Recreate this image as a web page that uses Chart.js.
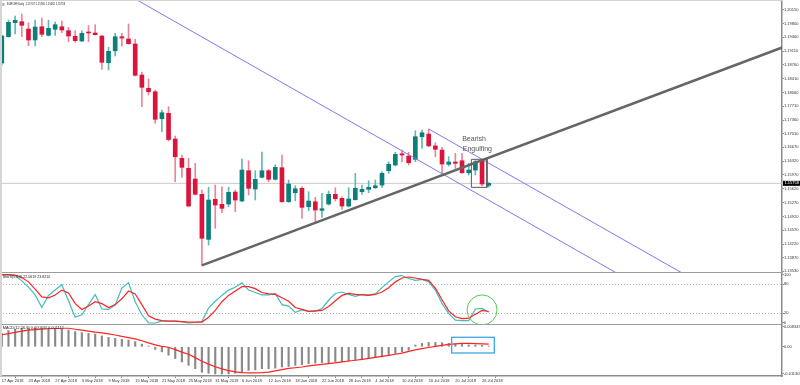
<!DOCTYPE html>
<html>
<head>
<meta charset="utf-8">
<title>EURCHF Daily</title>
<script src="https://cdn.jsdelivr.net/npm/chart.js@4.4.1/dist/chart.umd.min.js"></script>
<style>
html,body{margin:0;padding:0;background:#fff;}
body{width:800px;height:385px;position:relative;overflow:hidden;}
canvas{position:absolute;left:0;display:block;}
.sep{position:absolute;left:0;width:783px;height:1.5px;background:#9c9c9c;}
.edge{position:absolute;left:0;top:0;width:1.5px;height:376px;background:#d6d6d6;}
.topline{position:absolute;left:0;top:0;width:783px;height:1px;background:#d4d4d4;}
</style>
</head>
<body>
<canvas id="cMain" width="800" height="272" style="top:0"></canvas>
<canvas id="cStoch" width="800" height="52" style="top:272px"></canvas>
<canvas id="cMacd" width="800" height="61" style="top:324px"></canvas>
<div class="sep" style="top:271.5px"></div>
<div class="sep" style="top:323.5px"></div>
<div class="edge"></div>
<div class="topline"></div>
<script>
// ---------------- DATA ----------------
const dateLabels = ['17 Apr 2018','23 Apr 2018','27 Apr 2018','3 May 2018','9 May 2018','15 May 2018','21 May 2018','25 May 2018','31 May 2018','6 Jun 2018','12 Jun 2018','18 Jun 2018','22 Jun 2018','28 Jun 2018','4 Jul 2018','10 Jul 2018','16 Jul 2018','20 Jul 2018','26 Jul 2018'];
const dateTickIdx = [0,4,8,12,16,20,24,28,32,36,40,44,48,52,56,60,64,68,72];

const open  = [1.18807,1.19473,1.19828,1.19853,1.19668,1.19390,1.19726,1.19508,1.19661,1.19726,
               1.19625,1.19483,1.19364,1.19592,1.19567,1.19491,1.18814,1.19118,1.19473,1.19415,
               1.19288,1.18503,1.18166,1.18079,1.17395,1.17532,1.16881,1.16392,1.16138,1.15867,
               1.15480,1.14339,1.15353,1.15226,1.15234,1.15538,1.15310,1.16078,1.15614,1.15911,
               1.16078,1.15860,1.16154,1.15292,1.15520,1.15632,1.15165,1.15292,1.15074,1.15234,
               1.15480,1.15378,1.15183,1.15343,1.15546,1.15606,1.15647,1.15715,1.16078,1.16222,
               1.16508,1.16450,1.16366,1.16939,1.17007,1.16707,1.16602,1.16240,1.16298,1.16331,
               1.16027,1.16095,1.16331,1.15707];
const high  = [1.19516,1.19896,1.19998,1.20048,1.19828,1.19896,1.19947,1.19889,1.19846,1.19871,
               1.19711,1.19625,1.19625,1.19752,1.19777,1.19503,1.19204,1.19559,1.19559,1.19795,
               1.19407,1.18579,1.18401,1.18122,1.17616,1.17700,1.16957,1.16475,1.16392,1.16265,
               1.15589,1.15657,1.15715,1.15672,1.15657,1.15589,1.16374,1.16331,1.16078,1.16551,
               1.16113,1.16230,1.16475,1.15842,1.15697,1.15672,1.15546,1.15404,1.15505,1.15563,
               1.15647,1.15419,1.15647,1.16012,1.15715,1.15824,1.15842,1.16052,1.16306,1.16544,
               1.16602,1.16544,1.17091,1.17109,1.17134,1.16787,1.16670,1.16432,1.16518,1.16518,
               1.16265,1.16366,1.16366,1.15780];
const low   = [1.18756,1.19465,1.19541,1.19473,1.19245,1.19237,1.19473,1.19491,1.19508,1.19574,
               1.19346,1.19331,1.19346,1.19346,1.19516,1.18647,1.18629,1.18984,1.19237,1.19281,
               1.18477,1.17700,1.17996,1.17279,1.17066,1.16830,1.15799,1.15911,1.15165,1.15462,
               1.13688,1.14195,1.14618,1.15013,1.15165,1.15039,1.15292,1.15462,1.15335,1.15893,
               1.15799,1.15842,1.15284,1.15277,1.15317,1.14871,1.15064,1.14785,1.14897,1.15208,
               1.15310,1.15100,1.15158,1.15335,1.15480,1.15520,1.15627,1.15657,1.16012,1.16197,
               1.16306,1.16222,1.16306,1.16645,1.16686,1.16432,1.16012,1.16197,1.16138,1.16012,
               1.15969,1.15969,1.15690,1.15662];
const close = [1.19491,1.19838,1.19889,1.19762,1.19390,1.19719,1.19534,1.19686,1.19777,1.19643,
               1.19491,1.19372,1.19559,1.19567,1.19524,1.18824,1.19103,1.19473,1.19440,1.19296,
               1.18495,1.18191,1.18079,1.17380,1.17547,1.16868,1.16432,1.16164,1.15183,1.15480,
               1.14365,1.15335,1.15208,1.15125,1.15530,1.15335,1.16095,1.15632,1.15860,1.16078,
               1.15860,1.16164,1.15292,1.15740,1.15621,1.15150,1.15310,1.15082,1.15115,1.15480,
               1.15368,1.15183,1.15361,1.15632,1.15606,1.15657,1.15697,1.16012,1.16240,1.16493,
               1.16475,1.16280,1.16939,1.17040,1.16707,1.16620,1.16247,1.16298,1.16265,1.16027,
               1.16095,1.16306,1.15740,1.15758];

const stochK = [100,99,98,87,74,58,32,57,68,79, 46,12,17,38,59,29,28,37,72,83,
                44,17,0,0,4,4,4,3,0,1, 3,31,45,57,68,74,83,68,63,58,
                58,61,38,35,22,27,24,24,30,47, 61,64,59,55,59,58,60,73,85,96,
                98,92,88,90,85,68,40,20,6,5, 5,29,30,22.06];
const stochD = [100,100,99,94,85,70,54,52,58,68, 62,40,28,35,44,40,32,38,50,66,
                60,38,15,8,5,4,4,3,2,2, 2,12,26,44,57,66,75,75,71,63,
                60,59,52,45,32,28,24,25,26,34, 46,57,61,59,58,57,59,64,73,85,
                93,95,93,90,88,72,48,25,13,9, 10,18,26,23.82];

const macdMain = [0.0056,0.0067,0.0073,0.0077,0.0077,0.0077,0.0077,0.0075,0.0073,0.0073,
                  0.0070,0.0063,0.0059,0.0056,0.0053,0.0045,0.0039,0.0035,0.0031,0.0028,
                  0.0021,0.0011,0.0003,-0.0011,-0.0021,-0.0035,-0.0049,-0.0063,-0.0077,-0.0091,
                  -0.0106,-0.0110,-0.0113,-0.0113,-0.0113,-0.0110,-0.0106,-0.0098,-0.0096,-0.0091,
                  -0.0091,-0.0089,-0.0084,-0.0082,-0.0077,-0.0075,-0.0070,-0.0068,-0.0066,-0.0066,
                  -0.0063,-0.0063,-0.0060,-0.0056,-0.0053,-0.0049,-0.0045,-0.0042,-0.0035,-0.0028,
                  -0.0021,-0.0014,0.0007,0.0014,0.0018,0.0018,0.0017,0.0014,0.0011,0.0010,
                  0.0008,0.0007,0.0006,0.0003];
const macdSignal = [0.0050,0.0055,0.0060,0.0065,0.0069,0.0071,0.0073,0.0075,0.0076,0.0077,
                    0.0077,0.0073,0.0069,0.0065,0.0061,0.0058,0.0054,0.0049,0.0043,0.0038,
                    0.0033,0.0025,0.0016,0.0008,0.0002,-0.0002,-0.0012,-0.0022,-0.0031,-0.0045,
                    -0.0060,-0.0072,-0.0083,-0.0092,-0.0099,-0.0104,-0.0107,-0.0108,-0.0108,-0.0107,
                    -0.0105,-0.0100,-0.0095,-0.0090,-0.0087,-0.0084,-0.0079,-0.0076,-0.0073,-0.0070,
                    -0.0067,-0.0063,-0.0059,-0.0056,-0.0052,-0.0048,-0.0044,-0.0040,-0.0036,-0.0031,
                    -0.0026,-0.0019,-0.0013,-0.0008,-0.0003,0.0002,0.0006,0.0010,0.0012,0.0014,
                    0.0014,0.0013,0.0012,0.0011];

const priceTicks = [1.20150,1.19800,1.19460,1.19110,1.18760,1.18410,1.18060,1.17710,1.17360,1.17010,
                    1.16670,1.16320,1.15970,1.15620,1.15270,1.14920,1.14570,1.14220,1.13870,1.13530];
const stochTicks = [100,80,20,0];
const stochLevels = [80,20];
const macdTicks = [0.008349,0,-0.011308];
const macdTickText = ['0.008349','0.00','-0.011308'];

// drawn objects (index, price)
const trendUp  = [{x:30,y:1.13680},{x:117,y:1.19200}];
const channelA = [{x:10,y:1.21391},{x:117,y:1.11098}];
const channelB = [{x:64,y:1.17135},{x:117,y:1.12046}];
const patternBox = [{x:70.4,y:1.16367},{x:72.74,y:1.16367},{x:72.74,y:1.15657},{x:70.4,y:1.15657},{x:70.4,y:1.16367}];
const notes = [{text:'Bearish',x:70.8,y:1.16868},{text:'Engulfing',x:71.3,y:1.16615}];
const stochCircle = {x:72, y:27, r:15};
const macdBox = {x0:67.45, x1:73.84, y0:0.00395, y1:-0.00258};

const titleText = 'EURCHF,Daily  1.15707 1.15780 1.15662 1.15758';
const stochText = 'Stoch(5,3,3) 22.0619 23.8210';
const macdText  = 'MACD(12,26,9) 0.000334 0.001112';

// ---------------- SETUP ----------------
const FONT = "'Liberation Sans', Arial, sans-serif";
const X_MIN = -0.27, X_MAX = 116.97, AXIS_W = 18;
const BULL = '#0b7f79', BEAR = '#dc143c', BULL_WICK = '#5fb9b4', BEAR_WICK = '#ec8498';
const idx = open.map((_, i) => i);
const isBull = idx.map(i => close[i] >= open[i]);
const lastClose = close[close.length - 1];

function hiddenX(){ return {type:'linear', min:X_MIN, max:X_MAX, offset:false, display:false}; }
function rightY(min, max, vals, fmt){
  return {
    type:'linear', position:'right', min, max,
    afterFit(s){ s.width = AXIS_W; s.paddingTop = 0; s.paddingBottom = 0; },
    afterBuildTicks(s){ s.ticks = vals.map(v => ({value:v})); },
    ticks:{autoSkip:false, padding:0, color:'#333', font:{family:FONT, size:4}, callback:fmt},
    grid:{drawOnChartArea:false, drawTicks:true, tickLength:2, tickColor:'#888', tickWidth:1},
    border:{display:true, color:'#8c8c8c', width:1.5}
  };
}
const common = {responsive:false, animation:false, events:[], layout:{padding:0},
  plugins:{legend:{display:false}, tooltip:{enabled:false}}};
function lineDs(data, color, width, order){
  return {type:'line', data, borderColor:color, borderWidth:width, pointRadius:0, tension:0, fill:false, order};
}

// ---------------- MAIN ----------------
const mainDeco = {
  id:'mainDeco',
  afterDraw(chart){
    const {ctx, scales:{x, y}, chartArea} = chart;
    ctx.save();
    ctx.fillStyle = '#222'; ctx.font = `2.6px ${FONT}`; ctx.textBaseline = 'middle'; ctx.textAlign = 'left';
    ctx.fillText(titleText, 7, 4.5);
    ctx.fillStyle = '#bbb'; ctx.fillRect(2, 3, 2.5, 3);
    ctx.fillStyle = '#555'; ctx.font = `7px ${FONT}`; ctx.textAlign = 'center';
    notes.forEach(n => ctx.fillText(n.text, x.getPixelForValue(n.x), y.getPixelForValue(n.y)));
    const py = y.getPixelForValue(lastClose);
    ctx.fillStyle = '#000'; ctx.fillRect(chartArea.right + 1, py - 2.5, 17, 5);
    ctx.fillStyle = '#fff'; ctx.font = `4px ${FONT}`; ctx.textAlign = 'left';
    ctx.fillText(lastClose.toFixed(5), chartArea.right + 2.5, py);
    ctx.restore();
  }
};
new Chart(document.getElementById('cMain'), {
  type:'bar',
  data:{datasets:[
    lineDs([{x:X_MIN,y:lastClose},{x:X_MAX,y:lastClose}], '#cacaca', 1, 7),
    {type:'bar', data:idx.map(i => ({x:i, y:[low[i], high[i]]})), backgroundColor:isBull.map(b => b ? BULL_WICK : BEAR_WICK), barThickness:1, grouped:false, order:6},
    {type:'bar', data:idx.map(i => ({x:i, y:[open[i], close[i]]})), backgroundColor:isBull.map(b => b ? BULL : BEAR), barThickness:4, minBarLength:1, grouped:false, order:5},
    lineDs(channelA, '#7a7af2', 1, 3),
    lineDs(channelB, '#7a7af2', 1, 3),
    lineDs(trendUp, '#666666', 2.6, 1),
    lineDs(patternBox, '#5a5a5a', 1, 0)
  ]},
  options:{...common, scales:{x:hiddenX(), y:rightY(1.13512, 1.20403, priceTicks, v => v.toFixed(5))}},
  plugins:[mainDeco]
});

// ---------------- STOCH ----------------
const stochDeco = {
  id:'stochDeco',
  beforeDatasetsDraw(chart){
    const {ctx, scales:{y}, chartArea} = chart;
    ctx.save(); ctx.strokeStyle = '#b4b4b4'; ctx.lineWidth = 1; ctx.setLineDash([1, 2]);
    stochLevels.forEach(v => { const p = Math.round(y.getPixelForValue(v)) + 0.5;
      ctx.beginPath(); ctx.moveTo(chartArea.left, p); ctx.lineTo(chartArea.right, p); ctx.stroke(); });
    ctx.restore();
  },
  afterDraw(chart){
    const {ctx, scales:{x, y}} = chart;
    ctx.save();
    ctx.fillStyle = '#222'; ctx.font = `3.6px ${FONT}`; ctx.textBaseline = 'middle';
    ctx.fillText(stochText, 2.7, 5);
    ctx.strokeStyle = '#4ccf4c'; ctx.lineWidth = 1;
    ctx.beginPath(); ctx.arc(x.getPixelForValue(stochCircle.x), y.getPixelForValue(stochCircle.y), stochCircle.r, 0, Math.PI * 2); ctx.stroke();
    ctx.restore();
  }
};
new Chart(document.getElementById('cStoch'), {
  type:'line',
  data:{datasets:[
    lineDs(idx.map(i => ({x:i, y:stochK[i]})), '#3fbdbd', 1.2, 2),
    lineDs(idx.map(i => ({x:i, y:stochD[i]})), '#ff2424', 1.2, 1)
  ]},
  options:{...common, clip:false, scales:{x:hiddenX(), y:rightY(-2.07, 105.37, stochTicks, v => String(v))}},
  plugins:[stochDeco]
});

// ---------------- MACD ----------------
const macdDeco = {
  id:'macdDeco',
  afterDraw(chart){
    const {ctx, scales:{x, y}} = chart;
    ctx.save();
    ctx.fillStyle = '#222'; ctx.font = `3.9px ${FONT}`; ctx.textBaseline = 'middle';
    ctx.fillText(macdText, 2.7, 3.5);
    ctx.strokeStyle = '#3ea6e6'; ctx.lineWidth = 1.3;
    const x0 = x.getPixelForValue(macdBox.x0), x1 = x.getPixelForValue(macdBox.x1);
    const y0 = y.getPixelForValue(macdBox.y0), y1 = y.getPixelForValue(macdBox.y1);
    ctx.strokeRect(x0, y0, x1 - x0, y1 - y0);
    ctx.restore();
  }
};
new Chart(document.getElementById('cMacd'), {
  type:'bar',
  data:{datasets:[
    {type:'bar', data:idx.map(i => ({x:i, y:macdMain[i]})), backgroundColor:'#8a8a8a', barThickness:1.5, grouped:false, order:2},
    lineDs(idx.map(i => ({x:i, y:macdSignal[i]})), '#ff2424', 1.2, 1)
  ]},
  options:{...common, scales:{
    x:{type:'linear', min:X_MIN, max:X_MAX, offset:false, position:'bottom',
       afterFit(s){ s.height = 9; s.paddingLeft = 0; s.paddingRight = 0; },
       afterBuildTicks(s){ s.ticks = dateTickIdx.map(v => ({value:v})); },
       ticks:{autoSkip:false, maxRotation:0, minRotation:0, align:'start', padding:0, color:'#333',
              font:{family:FONT, size:4}, callback:(v, k) => dateLabels[k]},
       grid:{drawOnChartArea:false, drawTicks:true, tickLength:2, tickColor:'#888'},
       border:{display:true, color:'#8c8c8c', width:1.5}},
    y:rightY(-0.01214, 0.009471, macdTicks, (v, k) => macdTickText[k])
  }},
  plugins:[macdDeco]
});
</script>
</body>
</html>
